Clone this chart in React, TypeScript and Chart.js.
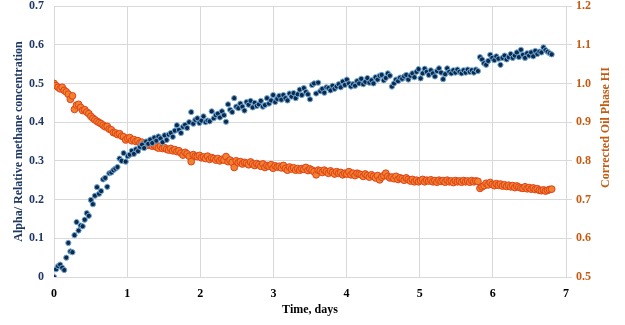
import React, { useEffect, useRef } from "react";
import { Chart, registerables } from "chart.js";

Chart.register(...registerables);

const TIME_STEP_DAYS = 0.028;

const alphaValues: number[] = [
  0.000, 0.020, 0.028, 0.032, 0.024, 0.018, 0.050, 0.088, 0.066, 0.064,
  0.108, 0.142, 0.120, 0.133, 0.131, 0.148, 0.165, 0.158, 0.199, 0.188,
  0.210, 0.232, 0.215, 0.222, 0.252, 0.256, 0.233, 0.268, 0.270, 0.276,
  0.280, 0.284, 0.306, 0.300, 0.320, 0.298, 0.312, 0.316, 0.326, 0.318,
  0.330, 0.325, 0.336, 0.342, 0.333, 0.350, 0.344, 0.355, 0.346, 0.360,
  0.352, 0.363, 0.358, 0.348, 0.366, 0.354, 0.368, 0.372, 0.362, 0.378,
  0.392, 0.380, 0.372, 0.388, 0.393, 0.385, 0.400, 0.426, 0.396, 0.406,
  0.410, 0.398, 0.404, 0.415, 0.400, 0.404, 0.402, 0.428, 0.410, 0.418,
  0.422, 0.412, 0.428, 0.418, 0.401, 0.446, 0.432, 0.426, 0.462, 0.440,
  0.436, 0.448, 0.440, 0.430, 0.452, 0.445, 0.455, 0.438, 0.450, 0.442,
  0.446, 0.455, 0.440, 0.444, 0.462, 0.448, 0.456, 0.470, 0.452, 0.460,
  0.468, 0.458, 0.470, 0.462, 0.456, 0.474, 0.466, 0.475, 0.462, 0.472,
  0.484, 0.470, 0.488, 0.478, 0.472, 0.459, 0.496, 0.500, 0.474, 0.502,
  0.480, 0.486, 0.476, 0.490, 0.488, 0.482, 0.494, 0.486, 0.492, 0.498,
  0.490, 0.505, 0.496, 0.510, 0.500, 0.492, 0.498, 0.494, 0.506, 0.500,
  0.512, 0.498, 0.504, 0.514, 0.502, 0.508, 0.500, 0.516, 0.510, 0.520,
  0.522, 0.508, 0.514, 0.526, 0.520, 0.492, 0.500, 0.510, 0.506, 0.515,
  0.512, 0.518, 0.522, 0.510, 0.520, 0.526, 0.516, 0.530, 0.537, 0.513,
  0.526, 0.538, 0.530, 0.522, 0.534, 0.526, 0.518, 0.532, 0.539, 0.528,
  0.511, 0.524, 0.539, 0.530, 0.526, 0.534, 0.528, 0.536, 0.530, 0.526,
  0.534, 0.528, 0.536, 0.530, 0.534, 0.528, 0.536, 0.532, 0.568, 0.562,
  0.552, 0.548, 0.558, 0.574, 0.566, 0.560, 0.570, 0.564, 0.548, 0.566,
  0.572, 0.562, 0.568, 0.576, 0.566, 0.572, 0.580, 0.568, 0.587, 0.574,
  0.566, 0.578, 0.572, 0.580, 0.570, 0.584, 0.576, 0.582, 0.580, 0.593,
  0.586, 0.582, 0.578, 0.575,
];

const hiValues: number[] = [
  1.000, 0.994, 0.990, 0.986, 0.990, 0.982, 0.978, 0.972, 0.959, 0.968,
  0.933, 0.944, 0.946, 0.938, 0.930, 0.932, 0.926, 0.922, 0.915, 0.910,
  0.906, 0.902, 0.899, 0.896, 0.892, 0.888, 0.889, 0.882, 0.880, 0.873,
  0.872, 0.868, 0.870, 0.864, 0.862, 0.854, 0.858, 0.860, 0.852, 0.855,
  0.850, 0.852, 0.846, 0.848, 0.843, 0.845, 0.840, 0.842, 0.838, 0.840,
  0.836, 0.833, 0.838, 0.832, 0.834, 0.830, 0.828, 0.832, 0.826, 0.829,
  0.824, 0.826, 0.820, 0.815, 0.822, 0.818, 0.812, 0.798, 0.816, 0.812,
  0.811, 0.814, 0.808, 0.810, 0.806, 0.812, 0.804, 0.808, 0.806, 0.802,
  0.806, 0.800, 0.804, 0.802, 0.811, 0.798, 0.802, 0.796, 0.783, 0.800,
  0.795, 0.798, 0.792, 0.796, 0.794, 0.790, 0.797, 0.792, 0.788, 0.793,
  0.790, 0.786, 0.792, 0.783, 0.788, 0.786, 0.790, 0.781, 0.787, 0.784,
  0.786, 0.782, 0.788, 0.780, 0.776, 0.784, 0.779, 0.782, 0.776, 0.780,
  0.776, 0.780, 0.778, 0.783, 0.775, 0.779, 0.776, 0.772, 0.764, 0.776,
  0.774, 0.770, 0.776, 0.772, 0.768, 0.774, 0.770, 0.766, 0.772, 0.768,
  0.770, 0.764, 0.768, 0.766, 0.772, 0.764, 0.768, 0.762, 0.768, 0.766,
  0.764, 0.760, 0.766, 0.762, 0.758, 0.764, 0.760, 0.756, 0.762, 0.751,
  0.758, 0.762, 0.768, 0.760, 0.756, 0.758, 0.754, 0.760, 0.752, 0.756,
  0.754, 0.750, 0.756, 0.752, 0.748, 0.752, 0.746, 0.750, 0.746, 0.749,
  0.752, 0.746, 0.750, 0.748, 0.751, 0.746, 0.749, 0.745, 0.750, 0.747,
  0.749, 0.745, 0.750, 0.746, 0.748, 0.744, 0.749, 0.746, 0.748, 0.745,
  0.749, 0.746, 0.748, 0.745, 0.749, 0.746, 0.748, 0.747, 0.729, 0.733,
  0.736, 0.742, 0.738, 0.744, 0.739, 0.736, 0.741, 0.737, 0.740, 0.735,
  0.738, 0.734, 0.737, 0.733, 0.736, 0.731, 0.735, 0.732, 0.730, 0.729,
  0.733, 0.728, 0.731, 0.727, 0.730, 0.726, 0.728, 0.724, 0.723, 0.725,
  0.722, 0.724, 0.726, 0.727,
];

const xTicks = [0, 1, 2, 3, 4, 5, 6, 7];
const leftTickLabels = ["0", "0.1", "0.2", "0.3", "0.4", "0.5", "0.6", "0.7"];
const rightTickLabels = ["0.5", "0.6", "0.7", "0.8", "0.9", "1.0", "1.1", "1.2"];

const X_TITLE = "Time, days";
const LEFT_TITLE = "Alpha/ Relative methane concentration";
const RIGHT_TITLE = "Corrected Oil Phase HI";

const NAVY = "#1f3864";
const ORANGE_TEXT = "#c55a11";
const GRID = "#d9d9d9";
const FONT = "'Liberation Serif', 'Times New Roman', serif";

export default function App() {
  const ref = useRef<HTMLCanvasElement | null>(null);

  useEffect(() => {
    document.body.style.margin = "0";
    const canvas = ref.current;
    if (!canvas) return;

    const alphaPts = alphaValues.map((v, i) => ({ x: i * TIME_STEP_DAYS, y: v }));
    const hiPts = hiValues.map((v, i) => ({ x: i * TIME_STEP_DAYS, y: v }));

    const rightTitlePlugin = {
      id: "rightTitle",
      afterDraw(chart: any) {
        const ctx = chart.ctx;
        const area = chart.chartArea;
        ctx.save();
        ctx.font = `bold 12px ${FONT}`;
        ctx.fillStyle = ORANGE_TEXT;
        ctx.textAlign = "center";
        ctx.textBaseline = "middle";
        ctx.translate(606, (area.top + area.bottom) / 2 - 14);
        ctx.rotate(-Math.PI / 2);
        ctx.fillText(RIGHT_TITLE, 0, 0);
        ctx.restore();
      },
    };

    const noPad = (scale: any) => {
      scale.paddingTop = 0;
      scale.paddingBottom = 0;
      scale.paddingLeft = 0;
      scale.paddingRight = 0;
    };

    const chart = new Chart(canvas, {
      type: "scatter",
      data: {
        datasets: [
          {
            label: "Alpha",
            data: alphaPts,
            yAxisID: "y",
            backgroundColor: "#0e2a47",
            borderColor: "#6fa8dc",
            borderWidth: 1,
            pointRadius: 2.6,
          },
          {
            label: "HI",
            data: hiPts,
            yAxisID: "y2",
            backgroundColor: "#f0832e",
            borderColor: "#e0401a",
            borderWidth: 1,
            pointRadius: 3.4,
          },
        ],
      },
      options: {
        responsive: false,
        animation: false,
        layout: { padding: { top: 6, left: 0, right: 0, bottom: 0 } },
        plugins: {
          legend: { display: false },
          tooltip: { enabled: false },
        },
        scales: {
          x: {
            type: "linear",
            min: 0,
            max: 7,
            afterBuildTicks: (scale: any) => {
              scale.ticks = xTicks.map((v) => ({ value: v }));
            },
            afterFit: (scale: any) => {
              scale.height = 48;
              noPad(scale);
            },
            grid: { color: GRID, drawTicks: false, lineWidth: 1 },
            border: { display: false },
            ticks: {
              padding: 10,
              color: "#000000",
              font: { family: FONT, size: 12, weight: "bold" },
              callback: (v: any) => String(v),
            },
            title: {
              display: true,
              text: X_TITLE,
              color: "#000000",
              font: { family: FONT, size: 12, weight: "bold" },
              padding: { top: 0, bottom: 8 },
            },
          },
          y: {
            type: "linear",
            position: "left",
            min: 0,
            max: 0.7,
            afterBuildTicks: (scale: any) => {
              scale.ticks = leftTickLabels.map((s) => ({ value: parseFloat(s) }));
            },
            afterFit: (scale: any) => {
              scale.width = 54;
              noPad(scale);
            },
            grid: { color: GRID, drawTicks: false, lineWidth: 1 },
            border: { display: false },
            ticks: {
              padding: 10,
              color: NAVY,
              font: { family: FONT, size: 12, weight: "bold" },
              callback: (_v: any, i: number) => leftTickLabels[i],
            },
            title: {
              display: true,
              text: LEFT_TITLE,
              color: NAVY,
              font: { family: FONT, size: 12, weight: "bold" },
              padding: { top: 12, bottom: 0 },
            },
          },
          y2: {
            type: "linear",
            position: "right",
            min: 0.5,
            max: 1.2,
            afterBuildTicks: (scale: any) => {
              scale.ticks = rightTickLabels.map((s) => ({ value: parseFloat(s) }));
            },
            afterFit: (scale: any) => {
              scale.width = 59;
              noPad(scale);
            },
            grid: {
              drawOnChartArea: false,
              color: GRID,
              drawTicks: true,
              tickLength: 6,
            },
            border: { display: true, color: GRID },
            ticks: {
              padding: 4,
              color: ORANGE_TEXT,
              font: { family: FONT, size: 12, weight: "bold" },
              callback: (_v: any, i: number) => rightTickLabels[i],
            },
          },
        },
      },
      plugins: [rightTitlePlugin],
    } as any);

    return () => chart.destroy();
  }, []);

  return (
    <div style={{ width: 625, height: 325 }}>
      <canvas ref={ref} width={625} height={325} style={{ display: "block" }} />
    </div>
  );
}
